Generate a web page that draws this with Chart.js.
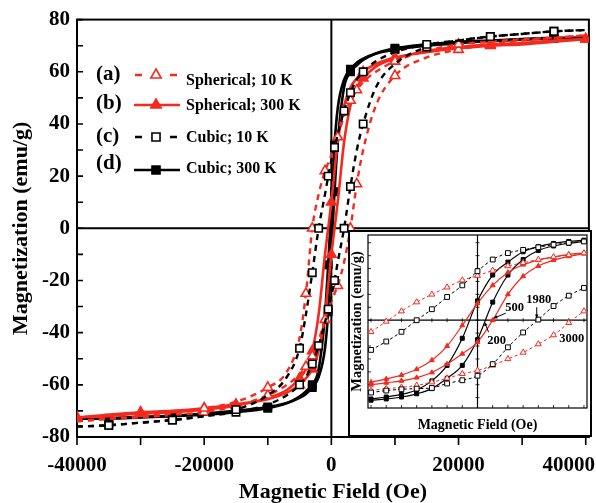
<!DOCTYPE html>
<html>
<head>
<meta charset="utf-8">
<script src="https://cdn.jsdelivr.net/npm/chart.js@4.4.1/dist/chart.umd.min.js"></script>
<style>
  html, body { margin: 0; padding: 0; background: #fff; }
  #wrap { position: relative; width: 596px; height: 503px; }
  #main { position: absolute; left: 0; top: 0; }
  #inset { position: absolute; left: 348px; top: 230px; background: #fff; }
</style>
</head>
<body>
<div id="wrap">
  <canvas id="main" width="596" height="503"></canvas>
  <canvas id="inset" width="244" height="207"></canvas>
</div>
<script>
const RED = '#f42a1e';
const BLACK = '#000';
const SERIF = '"Liberation Serif", "Times New Roman", serif';

// main loops: field (Oe) and magnetization (emu/g), "Down" = branch from +H, "Up" = branch from -H
const field = [-40000, -35000, -30000, -25000, -20000, -15000, -10000, -7000, -5000, -4000, -3000, -2000, -1000, -500, 0,
  500, 1000, 2000, 3000, 4000, 5000, 7000, 10000, 15000, 20000, 25000, 30000, 35000, 40000];

const sph10Down = [-74, -73, -72, -70.5, -69, -66.5, -61, -55, -42, -25, 0, 13, 22, 25, 28, 31, 35, 43, 49, 53, 56, 60, 64, 68, 70.5, 71.5, 72.5, 73, 74];
const sph10Up = [-74, -73, -72.5, -71.5, -70.5, -68, -64, -60, -56, -53, -49, -43, -35, -31, -28, -25, -22, -13, 0, 17, 30, 47, 58.5, 65.5, 68.5, 70.5, 72, 73, 74];
const sph300Down = [-72.5, -72, -71, -70.5, -69.5, -68, -65, -62, -57.5, -54, -47, -33, -10, 0, 10, 22, 33, 47, 54, 57.5, 60, 63, 65.5, 67.5, 69, 70, 70.5, 71.5, 72.5];
const sph300Up = [-72.5, -71.5, -70.5, -70, -69, -67.5, -65.5, -63, -60, -57.5, -54, -47, -33, -22, -10, 0, 10, 33, 47, 54, 57.5, 62, 65, 68, 69.5, 70.5, 71, 72, 72.5];
const cub10Down = [-76, -75.5, -74.5, -73.5, -72, -69.5, -64, -57, -46, -33, -17, 0, 13, 20, 26, 31, 36, 45, 52, 57, 60, 64, 67.5, 70.5, 72, 73.5, 74.5, 75.5, 76];
const cub10Up = [-76, -75.5, -74.5, -73.5, -72, -70.5, -67.5, -64, -60, -57, -52, -45, -36, -31, -26, -20, -13, 0, 16, 30, 40, 54, 63, 69.5, 72, 73.5, 74.5, 75.5, 76];
const cub300Down = [-73, -73, -72.5, -72, -71.5, -70.5, -69, -67, -64.5, -62.5, -60, -54, -33, -14, 8, 32, 46, 57, 61, 63.5, 65, 67, 68.5, 70, 71, 71.8, 72.3, 72.8, 73];
const cub300Up = [-73, -72.8, -72.3, -71.8, -71, -70, -68.5, -67, -65, -63.5, -61, -57, -46, -32, -8, 14, 33, 54, 60, 62.5, 64.5, 67, 69, 70.5, 71.5, 72, 72.5, 73, 73];

// fields where the main plot shows a symbol
const sph10Marks = [-20000, -10000, -4000, -3000, -1000, 1000, 3000, 4000, 10000, 20000];
const sph300Marks = [-40000, -30000, -20000, -15000, -5000, -3000, 0, 5000, 10000, 25000, 40000];
const cub10Marks = [-35000, -25000, -15000, -5000, -3000, -2000, -500, 500, 2000, 3000, 5000, 15000, 25000, 35000];
const cub300Marks = [-35000, -25000, -10000, -3000, -500, 500, 3000, 10000, 35000];

// inset: low field part of the loops
const fieldInset = [-3500, -3000, -2500, -2000, -1500, -1000, -500, 0, 500, 1000, 1500, 2000, 2500, 3000, 3500];
const sph10DownIn = [-9, -1, 7, 14, 20, 25.5, 31, 34.5, 38.5, 42, 44.5, 47, 49, 50.5, 52];
const sph10UpIn = [-54.5, -53, -52, -50.5, -48, -45, -41.5, -39, -35, -30, -25, -18.5, -11.5, -2, 7];
const sph300DownIn = [-48, -45.5, -42.5, -38, -31, -20, -4, 13, 27, 37, 43, 46.5, 49, 51, 52];
const sph300UpIn = [-50, -48.5, -47, -44.5, -40.5, -34, -26, -17, 0, 20, 34, 42, 46.5, 49.5, 51.5];
const cub10DownIn = [-23, -16.5, -9, 0, 8.5, 18, 27, 38, 47, 52, 54.5, 56.5, 58.5, 60, 61];
const cub10UpIn = [-56, -54.5, -53.5, -53, -52.5, -49, -46.5, -43, -34, -21, -9.5, 0.5, 11, 19, 25];
const cub300DownIn = [-61, -59.5, -57.5, -54, -47, -35, -14, 15, 35, 45, 53, 57, 59.5, 61, 62];
const cub300UpIn = [-62, -61, -59.5, -57, -53, -45, -35, -15, 14, 35, 47, 54, 57.5, 59.5, 61];
const coercive = [500, 1980, 200, 3000];

const xTicks = [-40000, -20000, 0, 20000, 40000];
const legendTags = ['(a)', '(b)', '(c)', '(d)'];
const legendNames = ['Spherical; 10 K', 'Spherical; 300 K', 'Cubic; 10 K', 'Cubic; 300 K'];

const sph10 = { color: RED, dash: [6, 5], shape: 'triangle', open: true, width: 2.4, r: 5.5 };
const sph300 = { color: RED, dash: [], shape: 'triangle', open: false, width: 2.6, r: 5.5 };
const cub10 = { color: BLACK, dash: [6, 5], shape: 'rect', open: true, width: 2.4, r: 5.2 };
const cub300 = { color: BLACK, dash: [], shape: 'rect', open: false, width: 2.6, r: 5.2 };
const legendStyles = [sph10, sph300, cub10, cub300];

function branch(xs, ys) {
    return xs.map((h, i) => ({ x: h, y: ys[i] }));
}

function mainSet(ys, st, marks) {
    return {
        data: branch(field, ys),
        showLine: true,
        borderColor: st.color,
        borderWidth: st.width,
        borderDash: st.dash,
        cubicInterpolationMode: 'monotone',
        pointStyle: st.shape,
        pointRadius: c => (c.raw && marks.includes(c.raw.x)) ? st.r : 0,
        pointBackgroundColor: st.open ? '#fff' : st.color,
        pointBorderColor: st.color,
        pointBorderWidth: 1.6
    };
}

function insetSet(ys, st) {
    return {
        data: branch(fieldInset, ys),
        showLine: true,
        borderColor: st.color,
        borderWidth: st.open ? 1 : 1.2,
        borderDash: st.open ? [3, 2.5] : [],
        cubicInterpolationMode: 'monotone',
        pointStyle: st.shape,
        pointRadius: st.open ? 3.4 : 2.8,
        pointBackgroundColor: st.open ? '#fff' : st.color,
        pointBorderColor: st.color,
        pointBorderWidth: 1
    };
}

function drawMark(ctx, st, x, y, r, bw) {
    ctx.beginPath();
    if (st.shape === 'triangle') {
        for (let k = 0; k < 3; k++) {
            const a = k * 2 * Math.PI / 3;
            ctx[k ? 'lineTo' : 'moveTo'](x + Math.sin(a) * r, y - Math.cos(a) * r);
        }
        ctx.closePath();
    } else {
        const s = r * Math.SQRT1_2;
        ctx.rect(x - s, y - s, 2 * s, 2 * s);
    }
    ctx.setLineDash([]);
    ctx.fillStyle = st.open ? '#fff' : st.color;
    ctx.fill();
    ctx.lineWidth = bw;
    ctx.strokeStyle = st.color;
    ctx.stroke();
}

const mainDecor = {
    id: 'mainDecor',
    beforeDatasetsDraw(chart) {
        const { ctx, chartArea: a, scales: { x, y } } = chart;
        ctx.save();
        ctx.strokeStyle = '#000';
        ctx.lineWidth = 2;
        ctx.strokeRect(a.left, a.top, a.right - a.left, a.bottom - a.top);
        const x0 = x.getPixelForValue(0), y0 = y.getPixelForValue(0);
        ctx.beginPath();
        ctx.moveTo(x0, a.top); ctx.lineTo(x0, a.bottom);
        ctx.moveTo(a.left, y0); ctx.lineTo(a.right, y0);
        ctx.stroke();
        ctx.lineWidth = 1.6;
        ctx.beginPath();
        for (let v = -80; v <= 80; v += 10) {
            const py = y.getPixelForValue(v);
            ctx.moveTo(a.left, py); ctx.lineTo(a.left + 6, py);
        }
        for (let v = -40000; v <= 40000; v += 10000) {
            const px = x.getPixelForValue(v);
            ctx.moveTo(px, a.bottom); ctx.lineTo(px, a.bottom + 8);
        }
        ctx.stroke();
        ctx.font = 'bold 21px ' + SERIF;
        ctx.fillStyle = '#000';
        ctx.textAlign = 'center';
        ctx.textBaseline = 'middle';
        xTicks.forEach(v => {
            const t = String(v);
            const w = ctx.measureText(t).width;
            const px = Math.min(x.getPixelForValue(v), chart.width - w / 2 - 1);
            ctx.fillText(t, px, 466);
        });
        ctx.restore();
    },
    afterDraw(chart) {
        const ctx = chart.ctx;
        const rows = [[75, 75, 81], [104, 105, 106], [137, 137, 138], [164, 170, 169]];
        ctx.save();
        legendStyles.forEach((st, i) => {
            const [ty, ly, ny] = rows[i];
            ctx.fillStyle = '#000';
            ctx.textAlign = 'left';
            ctx.textBaseline = 'middle';
            ctx.font = 'bold 21px ' + SERIF;
            ctx.fillText(legendTags[i], 96, ty);
            ctx.strokeStyle = st.color;
            ctx.lineWidth = st.width;
            ctx.beginPath();
            if (st.open) {
                ctx.moveTo(135, ly); ctx.lineTo(142, ly);
                ctx.moveTo(170, ly); ctx.lineTo(177, ly);
            } else {
                ctx.moveTo(134, ly); ctx.lineTo(180, ly);
            }
            ctx.stroke();
            drawMark(ctx, st, 156, ly, st.r + 0.5, 1.6);
            ctx.fillStyle = '#000';
            ctx.font = 'bold 16px ' + SERIF;
            ctx.fillText(legendNames[i], 186, ny);
        });
        ctx.restore();
    }
};

new Chart(document.getElementById('main'), {
    type: 'scatter',
    data: {
        datasets: [
            mainSet(cub10Down, cub10, cub10Marks),
            mainSet(cub10Up, cub10, cub10Marks),
            mainSet(sph10Down, sph10, sph10Marks),
            mainSet(sph10Up, sph10, sph10Marks),
            mainSet(sph300Down, sph300, sph300Marks),
            mainSet(sph300Up, sph300, sph300Marks),
            mainSet(cub300Down, cub300, cub300Marks),
            mainSet(cub300Up, cub300, cub300Marks)
        ]
    },
    options: {
        responsive: false,
        animation: false,
        events: [],
        layout: { padding: { top: 18, right: 4, bottom: 0, left: 0 } },
        plugins: { legend: { display: false }, tooltip: { enabled: false } },
        scales: {
            x: {
                type: 'linear', min: -40000, max: 40500,
                grid: { display: false, drawTicks: false },
                border: { display: false },
                ticks: { display: false },
                title: {
                    display: true, text: 'Magnetic Field (Oe)', color: '#000', padding: 0,
                    font: { family: SERIF, size: 22, weight: 'bold', lineHeight: 1 }
                },
                afterFit: s => { s.height = 66; }
            },
            y: {
                min: -80, max: 80,
                grid: { display: false, drawTicks: false },
                border: { display: false },
                ticks: {
                    stepSize: 20, color: '#000', padding: 7,
                    font: { family: SERIF, size: 21, weight: 'bold' }
                },
                title: {
                    display: true, text: 'Magnetization (emu/g)', color: '#000', padding: { top: 10, bottom: 0 },
                    font: { family: SERIF, size: 22, weight: 'bold', lineHeight: 1 }
                },
                afterFit: s => { s.width = 77; }
            }
        }
    },
    plugins: [mainDecor]
});

const insetDecor = {
    id: 'insetDecor',
    beforeDatasetsDraw(chart) {
        const { ctx, chartArea: a, scales: { x, y } } = chart;
        ctx.save();
        ctx.strokeStyle = '#000';
        ctx.lineWidth = 2;
        ctx.strokeRect(1, 1, chart.width - 2, chart.height - 2);
        ctx.lineWidth = 1.2;
        ctx.strokeRect(a.left, a.top, a.right - a.left, a.bottom - a.top);
        const x0 = x.getPixelForValue(0), y0 = y.getPixelForValue(0);
        ctx.beginPath();
        ctx.moveTo(x0, a.top); ctx.lineTo(x0, a.bottom);
        ctx.moveTo(a.left, y0); ctx.lineTo(a.right, y0);
        ctx.stroke();
        ctx.lineWidth = 0.8;
        ctx.beginPath();
        for (let v = -60; v <= 60; v += 10) {
            const py = y.getPixelForValue(v);
            ctx.moveTo(a.left, py); ctx.lineTo(a.left + 3, py);
            ctx.moveTo(x0 - 2, py); ctx.lineTo(x0 + 2, py);
        }
        for (let v = -3500; v <= 3500; v += 500) {
            const px = x.getPixelForValue(v);
            ctx.moveTo(px, a.bottom); ctx.lineTo(px, a.bottom - 3);
            ctx.moveTo(px, y0 - 2); ctx.lineTo(px, y0 + 2);
        }
        ctx.stroke();
        ctx.restore();
    },
    afterDatasetsDraw(chart) {
        const { ctx, scales: { x, y } } = chart;
        const z = y.getPixelForValue(0);
        const spots = [[22, -12, 13, -7], [1, -20, -1, -13], [13, 21, 5, 12], [3, 19, 0, 0]];
        ctx.save();
        ctx.font = 'bold 12.5px ' + SERIF;
        ctx.fillStyle = '#000';
        ctx.strokeStyle = '#000';
        ctx.lineWidth = 1;
        ctx.textAlign = 'center';
        ctx.textBaseline = 'middle';
        coercive.forEach((h, i) => {
            const px = x.getPixelForValue(h);
            const [dx, dy, ax, ay] = spots[i];
            ctx.fillText(String(h), px + dx, z + dy);
            if (ax || ay) {
                const tx = px + Math.sign(ax) * 1, ty = z + Math.sign(ay) * 2;
                ctx.beginPath();
                ctx.moveTo(px + ax, z + ay); ctx.lineTo(tx, ty);
                ctx.stroke();
                const ang = Math.atan2(ty - (z + ay), tx - (px + ax));
                ctx.beginPath();
                ctx.moveTo(tx, ty);
                ctx.lineTo(tx - 4 * Math.cos(ang - 0.45), ty - 4 * Math.sin(ang - 0.45));
                ctx.lineTo(tx - 4 * Math.cos(ang + 0.45), ty - 4 * Math.sin(ang + 0.45));
                ctx.closePath();
                ctx.fill();
            }
        });
        ctx.restore();
    }
};

new Chart(document.getElementById('inset'), {
    type: 'scatter',
    data: {
        datasets: [
            insetSet(cub10DownIn, cub10),
            insetSet(cub10UpIn, cub10),
            insetSet(sph10DownIn, sph10),
            insetSet(sph10UpIn, sph10),
            insetSet(sph300DownIn, sph300),
            insetSet(sph300UpIn, sph300),
            insetSet(cub300DownIn, cub300),
            insetSet(cub300UpIn, cub300)
        ]
    },
    options: {
        responsive: false,
        animation: false,
        events: [],
        layout: { padding: { top: 3, right: 2, bottom: 0, left: 0 } },
        plugins: { legend: { display: false }, tooltip: { enabled: false } },
        scales: {
            x: {
                type: 'linear', min: -3600, max: 3600,
                grid: { display: false, drawTicks: false },
                border: { display: false },
                ticks: { display: false },
                title: {
                    display: true, text: 'Magnetic Field (Oe)', color: '#000', padding: { top: 0, bottom: 5 },
                    font: { family: SERIF, size: 14, weight: 'bold', lineHeight: 1 }
                },
                afterFit: s => { s.height = 29; }
            },
            y: {
                min: -68, max: 66,
                grid: { display: false, drawTicks: false },
                border: { display: false },
                ticks: { display: false },
                title: {
                    display: true, text: 'Magnetization (emu/g)', color: '#000', padding: { top: 2, bottom: 0 },
                    font: { family: SERIF, size: 14.5, weight: 'bold', lineHeight: 1 }
                },
                afterFit: s => { s.width = 20; }
            }
        }
    },
    plugins: [insetDecor]
});
</script>
</body>
</html>
